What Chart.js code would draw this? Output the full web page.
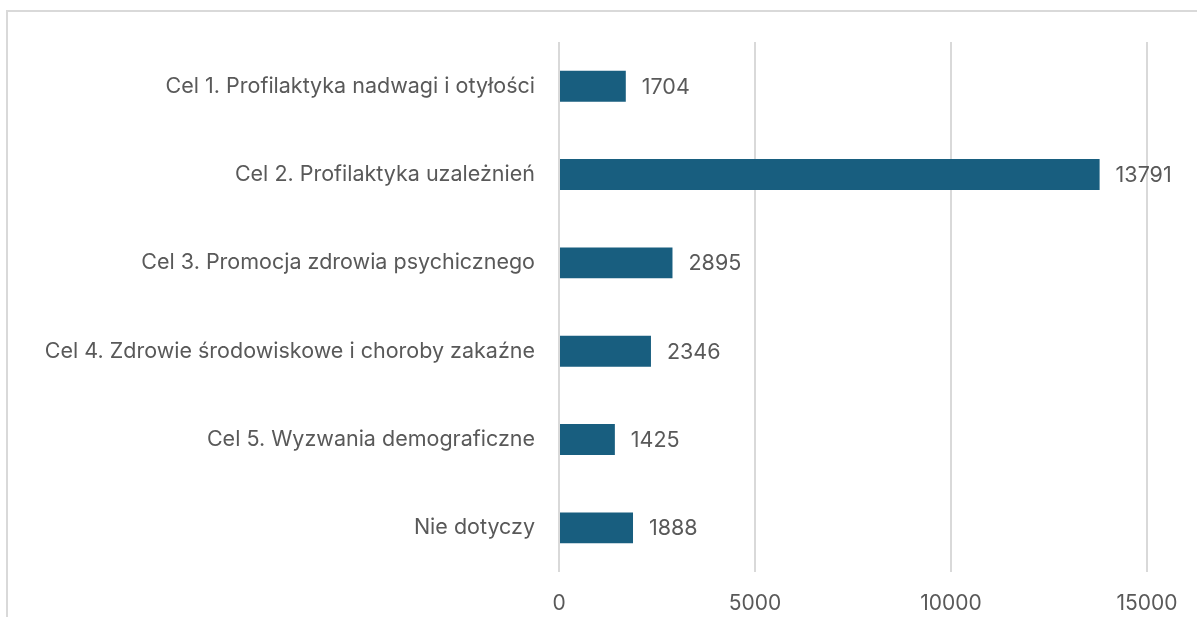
<!DOCTYPE html>
<html lang="pl">
<head>
    <meta charset="UTF-8">
    <title>Cele zdrowotne</title>
    <script src="https://cdn.jsdelivr.net/npm/chart.js"></script>
    <style>
        html, body {
            margin: 0;
            padding: 0;
            background: white;
            overflow: hidden;
        }
        .frame {
            position: absolute;
            left: 6px;
            top: 10px;
            width: 1400px;
            height: 800px;
            border: 2px solid #d9d9d9;
        }
        canvas {
            position: absolute;
            left: 0;
            top: 0;
        }
    </style>
</head>
<body>
    <div class="frame"></div>
    <canvas id="celeChart" width="1197" height="617"></canvas>
    <script>
        const categories = [
            'Cel 1. Profilaktyka nadwagi i otyłości',
            'Cel 2. Profilaktyka uzależnień',
            'Cel 3. Promocja zdrowia psychicznego',
            'Cel 4. Zdrowie środowiskowe i choroby zakaźne',
            'Cel 5. Wyzwania demograficzne',
            'Nie dotyczy'
        ];
        const values = [1704, 13791, 2895, 2346, 1425, 1888];
        const xTicks = [0, 5000, 10000, 15000];

        const textColor = '#595959';
        const fontFamily = 'Inter, "Noto Sans", sans-serif';

        // wartości przy końcach słupków
        const valueLabels = {
            id: 'valueLabels',
            afterDatasetsDraw(chart) {
                const ctx = chart.ctx;
                const meta = chart.getDatasetMeta(0);
                ctx.save();
                ctx.font = '21.5px ' + fontFamily;
                ctx.fillStyle = textColor;
                ctx.textAlign = 'left';
                ctx.textBaseline = 'middle';
                meta.data.forEach((bar, i) => {
                    ctx.fillText(String(values[i]), bar.x + 16, bar.y + 1);
                });
                ctx.restore();
            }
        };

        const ctx = document.getElementById('celeChart').getContext('2d');
        new Chart(ctx, {
            type: 'bar',
            data: {
                labels: categories,
                datasets: [{
                    data: values,
                    backgroundColor: '#185e7f',
                    categoryPercentage: 0.35,
                    barPercentage: 1
                }]
            },
            options: {
                indexAxis: 'y',
                responsive: false,
                animation: false,
                layout: {
                    padding: { top: 42, right: 50, left: 0, bottom: 0 }
                },
                scales: {
                    x: {
                        min: 0,
                        max: 15000,
                        afterBuildTicks: scale => {
                            scale.ticks = xTicks.map(v => ({ value: v }));
                        },
                        afterFit: scale => { scale.height = 45; },
                        grid: {
                            color: '#d9d9d9',
                            lineWidth: 2,
                            drawTicks: false
                        },
                        border: { display: false },
                        ticks: {
                            color: textColor,
                            padding: 19,
                            font: { family: fontFamily, size: 21 },
                            callback: value => String(value)
                        }
                    },
                    y: {
                        afterFit: scale => { scale.width = 559; },
                        grid: { display: false },
                        border: { display: false },
                        ticks: {
                            color: textColor,
                            padding: 16,
                            font: { family: fontFamily, size: 21.5 }
                        }
                    }
                },
                plugins: {
                    legend: { display: false },
                    tooltip: { enabled: false }
                }
            },
            plugins: [valueLabels]
        });
    </script>
</body>
</html>
